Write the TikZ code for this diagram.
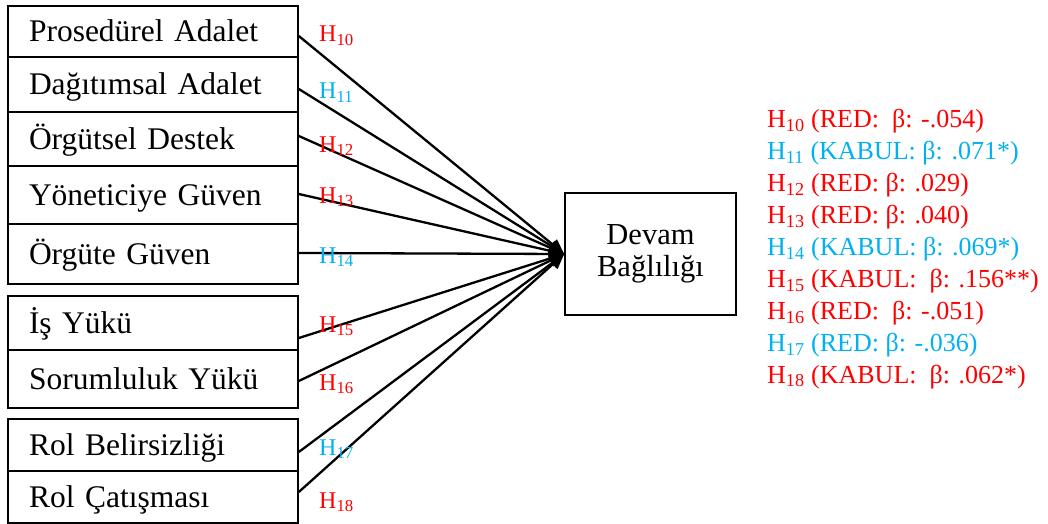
\documentclass[tikz,border=0pt]{standalone}
\usepackage{fontspec}
\setmainfont{Liberation Serif}
\usetikzlibrary{arrows.meta,calc}
\definecolor{hred}{HTML}{FF0000}
\definecolor{hblue}{HTML}{00B0F0}
\begin{document}
\begin{tikzpicture}[x=1pt,y=-1pt,
  box/.style={draw, line width=1.6pt, minimum width=290pt, text width=248pt,
    inner xsep=21pt, inner ysep=0pt, align=left,
    font=\fontsize{31.5}{36}\selectfont, text height=24pt, text depth=4pt},
  conn/.style={line width=2.3pt, -{Triangle[length=15pt,width=13pt]}},
  lab/.style={anchor=base west, inner sep=0pt, font=\fontsize{24}{28}\selectfont},
  res/.style={anchor=base west, inner sep=0pt, font=\fontsize{26}{30}\selectfont},
]
\useasboundingbox (0,0) rectangle (1048,524);
% left boxes
\node[box, minimum height=51pt] (b1) at (153,31.5) {Prosedürel Adalet};
\node[box, minimum height=55pt] (b2) at (153,84.5) {Dağıtımsal Adalet};
\node[box, minimum height=54pt] (b3) at (153,139) {Örgütsel Destek};
\node[box, minimum height=58pt] (b4) at (153,195) {Yöneticiye Güven};
\node[box, minimum height=60pt] (b5) at (153,254) {Örgüte Güven};
\node[box, minimum height=54pt] (b6) at (153,323) {İş Yükü};
\node[box, minimum height=58pt] (b7) at (153,379) {Sorumluluk Yükü};
\node[box, minimum height=52pt] (b8) at (153,445) {Rol Belirsizliği};
\node[box, minimum height=52pt] (b9) at (153,497) {Rol Çatışması};
% target
\node[draw, line width=1.6pt, minimum width=171pt, minimum height=122pt,
  inner sep=0pt, align=center, font=\fontsize{30.5}{32}\selectfont] (dv) at (650.5,254) {Devam\\Bağlılığı};
% connectors
\draw[conn] ([yshift=-4.5pt]b1.east) -- (dv.west);
\draw[conn] ([yshift=-4.5pt]b2.east) -- (dv.west);
\draw[conn] ([yshift=3pt]b3.east) -- (dv.west);
\draw[conn] ([yshift=1pt]b4.east) -- (dv.west);
\draw[conn] ([yshift=1pt]b5.east) -- (dv.west);
\draw[conn] ([yshift=-15pt]b6.east) -- (dv.west);
\draw[conn] ([yshift=-2pt]b7.east) -- (dv.west);
\draw[conn] ([yshift=-7pt]b8.east) -- (dv.west);
\draw[conn] ([yshift=5pt]b9.east) -- (dv.west);
% hypothesis labels
\node[lab, text=hred]  (l10) at (319,42)  {H\textsubscript{10}};
\node[lab, text=hblue] (l11) at (319,99)  {H\textsubscript{11}};
\node[lab, text=hred]  (l12) at (319,152) {H\textsubscript{12}};
\node[lab, text=hred]  (l13) at (319,203) {H\textsubscript{13}};
\node[lab, text=hblue] (l14) at (319,263) {H\textsubscript{14}};
\node[lab, text=hred]  (l15) at (319,332) {H\textsubscript{15}};
\node[lab, text=hred]  (l16) at (319,390) {H\textsubscript{16}};
\node[lab, text=hblue] (l17) at (319,455) {H\textsubscript{17}};
\node[lab, text=hred]  (l18) at (319,508) {H\textsubscript{18}};
% results
\node[res, text=hred]  (r10) at (767,128)   {H\textsubscript{10} (RED:\ \ β: -.054)};
\node[res, text=hblue] (r11) at (767,159.9) {H\textsubscript{11} (KABUL: β: .071*)};
\node[res, text=hred]  (r12) at (767,191.8) {H\textsubscript{12} (RED: β: .029)};
\node[res, text=hred]  (r13) at (767,223.7) {H\textsubscript{13} (RED: β: .040)};
\node[res, text=hblue] (r14) at (767,255.6) {H\textsubscript{14} (KABUL: β: .069*)};
\node[res, text=hred]  (r15) at (767,287.5) {H\textsubscript{15} (KABUL:\ \ β: .156**)};
\node[res, text=hred]  (r16) at (767,319.4) {H\textsubscript{16} (RED:\ \ β: -.051)};
\node[res, text=hblue] (r17) at (767,351.3) {H\textsubscript{17} (RED: β: -.036)};
\node[res, text=hred]  (r18) at (767,383.2) {H\textsubscript{18} (KABUL:\ \ β: .062*)};
\end{tikzpicture}
\end{document}
